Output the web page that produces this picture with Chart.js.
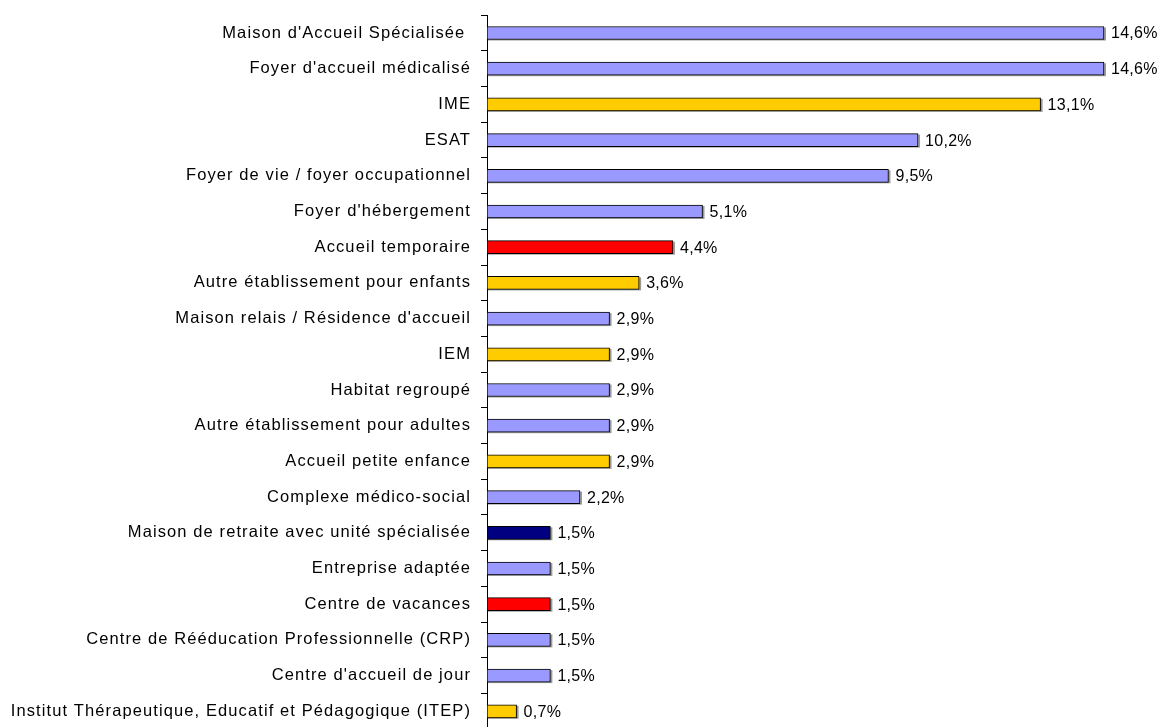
<!DOCTYPE html>
<html>
<head>
<meta charset="utf-8">
<script src="https://cdn.jsdelivr.net/npm/chart.js@4.4.1/dist/chart.umd.min.js"></script>
<style>
  html, body { margin: 0; padding: 0; background: #fff; overflow: hidden; }
  #wrap { width: 1160px; height: 745px; }
</style>
</head>
<body>
<div id="wrap"><canvas id="c" width="1160" height="745"></canvas></div>
<script>
const categories = [
  "Maison d'Accueil Spécialisée ",
  "Foyer d'accueil médicalisé",
  "IME",
  "ESAT",
  "Foyer de vie / foyer occupationnel",
  "Foyer d'hébergement",
  "Accueil temporaire",
  "Autre établissement pour enfants",
  "Maison relais / Résidence d'accueil",
  "IEM",
  "Habitat regroupé",
  "Autre établissement pour adultes",
  "Accueil petite enfance",
  "Complexe médico-social",
  "Maison de retraite avec unité spécialisée",
  "Entreprise adaptée",
  "Centre de vacances",
  "Centre de Rééducation Professionnelle (CRP)",
  "Centre d'accueil de jour",
  "Institut Thérapeutique, Educatif et Pédagogique (ITEP)"
];
const values = [14.6, 14.6, 13.1, 10.2, 9.5, 5.1, 4.4, 3.6, 2.9, 2.9, 2.9, 2.9, 2.9, 2.2, 1.5, 1.5, 1.5, 1.5, 1.5, 0.7];
const groups = ["adult", "adult", "child", "adult", "adult", "adult", "temp", "child", "adult", "child", "adult", "adult", "child", "adult", "elder", "adult", "temp", "adult", "adult", "child"];
const groupColors = { adult: "#9999FF", child: "#FFCC00", temp: "#FF0000", elder: "#000080" };

const FONT = { family: "'Liberation Sans', Arial, sans-serif", size: 16.5 };

const spacingPlugin = {
  id: 'spacing',
  beforeDraw(chart) { chart.ctx.letterSpacing = '1.1px'; }
};

const shadowPlugin = {
  id: 'shadow',
  beforeDatasetsDraw(chart) {
    const ctx = chart.ctx;
    ctx.save();
    ctx.fillStyle = '#9a9a9a';
    const meta = chart.getDatasetMeta(0);
    meta.data.forEach(bar => {
      const h = bar.height;
      ctx.fillRect(bar.base + 1, bar.y - h / 2 + 1, bar.x - bar.base + 1, h);
    });
    ctx.restore();
  }
};

const labelPlugin = {
  id: 'valueLabels',
  afterDatasetsDraw(chart) {
    const ctx = chart.ctx;
    ctx.save();
    ctx.font = `16px ${FONT.family}`;
    ctx.letterSpacing = '0.3px';
    ctx.fillStyle = '#000';
    ctx.textAlign = 'left';
    ctx.textBaseline = 'middle';
    const meta = chart.getDatasetMeta(0);
    meta.data.forEach((bar, i) => {
      const txt = values[i].toFixed(1).replace('.', ',') + '%';
      ctx.fillText(txt, bar.x + 7, bar.y + 1);
    });
    ctx.restore();
  }
};

new Chart(document.getElementById('c'), {
  type: 'bar',
  data: {
    labels: categories,
    datasets: [{
      data: values,
      backgroundColor: groups.map(g => groupColors[g]),
      borderColor: '#000',
      borderWidth: 1,
      borderSkipped: false,
      barThickness: 13
    }]
  },
  options: {
    indexAxis: 'y',
    responsive: false,
    devicePixelRatio: 1,
    animation: false,
    layout: { padding: { top: 15.15, right: 18, bottom: 15.85, left: 0 } },
    plugins: { legend: { display: false }, tooltip: { enabled: false } },
    scales: {
      x: { display: false, min: 0, max: 15.5 },
      y: {
        afterFit(scale) { scale.width = 487; scale.paddingTop = 0; scale.paddingBottom = 0; },
        border: { display: true, color: '#000', width: 1 },
        grid: { drawOnChartArea: false, tickLength: 6, color: '#000', offset: true },
        ticks: { color: '#000', font: FONT, padding: 10, autoSkip: false }
      }
    }
  },
  plugins: [spacingPlugin, shadowPlugin, labelPlugin]
});
</script>
</body>
</html>
